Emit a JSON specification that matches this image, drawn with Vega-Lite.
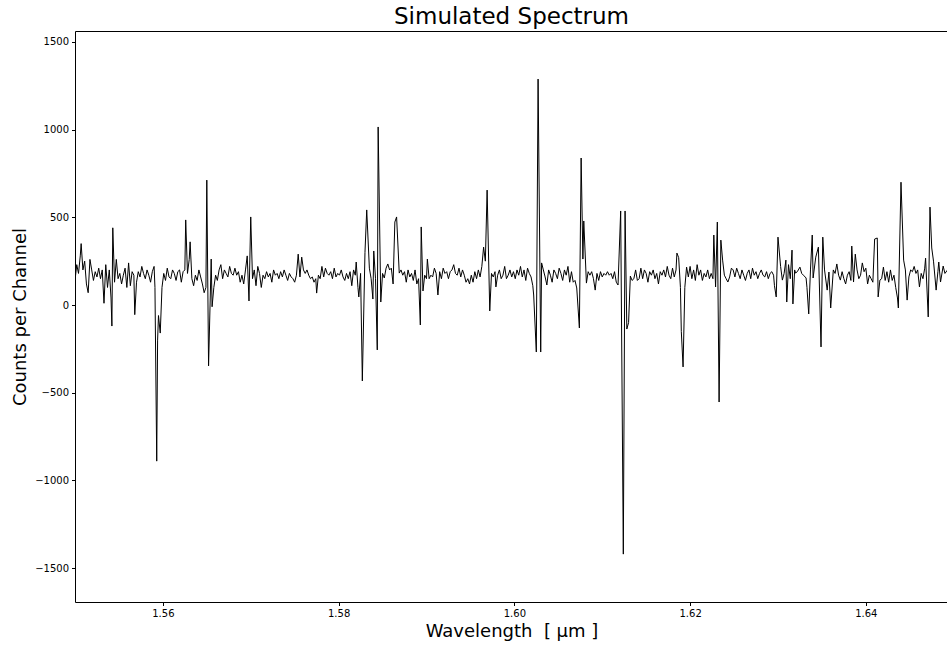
{
"$schema": "https://vega.github.io/schema/vega-lite/v6.json",
"autosize": {"type": "none"},
"padding": {"left": 75, "top": 31, "right": 0, "bottom": 47},
"width": 873,
"height": 571,
"background": "white",
"config": {
  "font": "DejaVu Sans",
  "view": {"stroke": "black", "strokeWidth": 1},
  "axis": {"domain": false, "grid": false, "tickColor": "black", "tickSize": 3.5, "labelFont": "DejaVu Sans", "labelFontSize": 10, "labelColor": "black", "titleFont": "DejaVu Sans", "titleFontWeight": "normal", "titleFontSize": 18, "titleColor": "black", "labelPadding": 3}
},
"title": {"text": "Simulated Spectrum", "font": "DejaVu Sans", "fontSize": 23, "fontWeight": "normal", "color": "black", "anchor": "middle", "offset": 2},
"data": {"values": [
{"w":1.5500,"c":140},{"w":1.5502,"c":230},{"w":1.5504,"c":180},{"w":1.5506,"c":280},{"w":1.5507,"c":350},{"w":1.5509,"c":200},{"w":1.5511,"c":250},{"w":1.5513,"c":120},{"w":1.5515,"c":70},{"w":1.5517,"c":260},{"w":1.5519,"c":200},{"w":1.5521,"c":140},{"w":1.5523,"c":190},{"w":1.5525,"c":160},{"w":1.5527,"c":210},{"w":1.5529,"c":150},{"w":1.5531,"c":200},{"w":1.5533,"c":10},{"w":1.5535,"c":230},{"w":1.5537,"c":100},{"w":1.5539,"c":200},{"w":1.5541,"c":40},{"w":1.5542,"c":-120},{"w":1.5543,"c":440},{"w":1.5545,"c":130},{"w":1.5547,"c":260},{"w":1.5549,"c":150},{"w":1.5551,"c":180},{"w":1.5553,"c":120},{"w":1.5555,"c":170},{"w":1.5557,"c":210},{"w":1.5559,"c":100},{"w":1.5561,"c":240},{"w":1.5563,"c":110},{"w":1.5565,"c":190},{"w":1.5567,"c":170},{"w":1.5568,"c":-55},{"w":1.5570,"c":130},{"w":1.5572,"c":190},{"w":1.5574,"c":160},{"w":1.5576,"c":220},{"w":1.5578,"c":180},{"w":1.5580,"c":150},{"w":1.5582,"c":200},{"w":1.5584,"c":170},{"w":1.5586,"c":130},{"w":1.5588,"c":190},{"w":1.5590,"c":220},{"w":1.5591,"c":100},{"w":1.5593,"c":-890},{"w":1.5594,"c":-200},{"w":1.5595,"c":-60},{"w":1.5597,"c":-160},{"w":1.5599,"c":100},{"w":1.5601,"c":180},{"w":1.5603,"c":140},{"w":1.5605,"c":210},{"w":1.5607,"c":160},{"w":1.5609,"c":150},{"w":1.5611,"c":200},{"w":1.5613,"c":180},{"w":1.5615,"c":140},{"w":1.5617,"c":190},{"w":1.5619,"c":200},{"w":1.5621,"c":130},{"w":1.5623,"c":190},{"w":1.5625,"c":200},{"w":1.5626,"c":485},{"w":1.5628,"c":180},{"w":1.5630,"c":260},{"w":1.5631,"c":360},{"w":1.5633,"c":150},{"w":1.5635,"c":110},{"w":1.5637,"c":170},{"w":1.5639,"c":140},{"w":1.5641,"c":200},{"w":1.5643,"c":160},{"w":1.5645,"c":120},{"w":1.5647,"c":70},{"w":1.5649,"c":100},{"w":1.5650,"c":712},{"w":1.5652,"c":-347},{"w":1.5655,"c":262},{"w":1.5656,"c":-10},{"w":1.5658,"c":100},{"w":1.5660,"c":170},{"w":1.5662,"c":140},{"w":1.5664,"c":200},{"w":1.5666,"c":230},{"w":1.5668,"c":150},{"w":1.5670,"c":200},{"w":1.5672,"c":180},{"w":1.5674,"c":160},{"w":1.5676,"c":220},{"w":1.5678,"c":180},{"w":1.5680,"c":170},{"w":1.5682,"c":210},{"w":1.5684,"c":170},{"w":1.5686,"c":190},{"w":1.5688,"c":130},{"w":1.5690,"c":170},{"w":1.5692,"c":120},{"w":1.5694,"c":200},{"w":1.5696,"c":280},{"w":1.5698,"c":23},{"w":1.5700,"c":502},{"w":1.5702,"c":150},{"w":1.5704,"c":200},{"w":1.5706,"c":110},{"w":1.5708,"c":220},{"w":1.5710,"c":180},{"w":1.5712,"c":100},{"w":1.5714,"c":170},{"w":1.5716,"c":150},{"w":1.5718,"c":190},{"w":1.5720,"c":160},{"w":1.5722,"c":180},{"w":1.5724,"c":130},{"w":1.5726,"c":200},{"w":1.5728,"c":170},{"w":1.5730,"c":180},{"w":1.5732,"c":150},{"w":1.5734,"c":190},{"w":1.5736,"c":160},{"w":1.5738,"c":200},{"w":1.5740,"c":170},{"w":1.5742,"c":140},{"w":1.5744,"c":180},{"w":1.5746,"c":160},{"w":1.5748,"c":150},{"w":1.5750,"c":130},{"w":1.5752,"c":170},{"w":1.5754,"c":290},{"w":1.5756,"c":160},{"w":1.5758,"c":273},{"w":1.5760,"c":200},{"w":1.5762,"c":180},{"w":1.5764,"c":200},{"w":1.5766,"c":170},{"w":1.5768,"c":150},{"w":1.5770,"c":160},{"w":1.5772,"c":130},{"w":1.5774,"c":150},{"w":1.5775,"c":68},{"w":1.5777,"c":170},{"w":1.5779,"c":150},{"w":1.5781,"c":220},{"w":1.5783,"c":160},{"w":1.5785,"c":210},{"w":1.5787,"c":180},{"w":1.5789,"c":170},{"w":1.5791,"c":190},{"w":1.5793,"c":150},{"w":1.5795,"c":210},{"w":1.5797,"c":160},{"w":1.5799,"c":180},{"w":1.5801,"c":170},{"w":1.5803,"c":200},{"w":1.5805,"c":160},{"w":1.5807,"c":140},{"w":1.5809,"c":180},{"w":1.5811,"c":150},{"w":1.5813,"c":190},{"w":1.5815,"c":110},{"w":1.5817,"c":200},{"w":1.5819,"c":170},{"w":1.5820,"c":245},{"w":1.5822,"c":100},{"w":1.5823,"c":46},{"w":1.5825,"c":180},{"w":1.5827,"c":-433},{"w":1.5830,"c":300},{"w":1.5832,"c":542},{"w":1.5835,"c":210},{"w":1.5837,"c":150},{"w":1.5839,"c":34},{"w":1.5840,"c":308},{"w":1.5842,"c":150},{"w":1.5844,"c":-256},{"w":1.5845,"c":1015},{"w":1.5848,"c":17},{"w":1.5850,"c":180},{"w":1.5852,"c":154},{"w":1.5854,"c":210},{"w":1.5856,"c":234},{"w":1.5858,"c":200},{"w":1.5860,"c":210},{"w":1.5862,"c":120},{"w":1.5864,"c":473},{"w":1.5866,"c":502},{"w":1.5869,"c":182},{"w":1.5871,"c":200},{"w":1.5873,"c":170},{"w":1.5875,"c":190},{"w":1.5877,"c":130},{"w":1.5879,"c":200},{"w":1.5881,"c":160},{"w":1.5883,"c":180},{"w":1.5885,"c":140},{"w":1.5887,"c":200},{"w":1.5889,"c":120},{"w":1.5891,"c":150},{"w":1.5893,"c":-114},{"w":1.5894,"c":445},{"w":1.5896,"c":80},{"w":1.5898,"c":170},{"w":1.5900,"c":150},{"w":1.5901,"c":262},{"w":1.5903,"c":150},{"w":1.5905,"c":170},{"w":1.5907,"c":160},{"w":1.5909,"c":210},{"w":1.5911,"c":180},{"w":1.5913,"c":57},{"w":1.5915,"c":190},{"w":1.5917,"c":150},{"w":1.5919,"c":210},{"w":1.5921,"c":180},{"w":1.5923,"c":190},{"w":1.5925,"c":150},{"w":1.5927,"c":190},{"w":1.5929,"c":200},{"w":1.5931,"c":230},{"w":1.5933,"c":180},{"w":1.5935,"c":170},{"w":1.5937,"c":210},{"w":1.5939,"c":160},{"w":1.5941,"c":200},{"w":1.5943,"c":170},{"w":1.5945,"c":130},{"w":1.5947,"c":150},{"w":1.5949,"c":120},{"w":1.5951,"c":170},{"w":1.5953,"c":130},{"w":1.5955,"c":190},{"w":1.5957,"c":150},{"w":1.5959,"c":200},{"w":1.5961,"c":160},{"w":1.5963,"c":220},{"w":1.5965,"c":330},{"w":1.5967,"c":250},{"w":1.5969,"c":655},{"w":1.5972,"c":-34},{"w":1.5974,"c":180},{"w":1.5976,"c":160},{"w":1.5978,"c":190},{"w":1.5979,"c":103},{"w":1.5981,"c":170},{"w":1.5983,"c":200},{"w":1.5985,"c":150},{"w":1.5987,"c":170},{"w":1.5989,"c":220},{"w":1.5991,"c":150},{"w":1.5993,"c":170},{"w":1.5995,"c":200},{"w":1.5997,"c":160},{"w":1.5999,"c":190},{"w":1.6001,"c":150},{"w":1.6003,"c":200},{"w":1.6005,"c":170},{"w":1.6007,"c":220},{"w":1.6009,"c":160},{"w":1.6011,"c":200},{"w":1.6013,"c":140},{"w":1.6015,"c":210},{"w":1.6017,"c":180},{"w":1.6019,"c":160},{"w":1.6021,"c":110},{"w":1.6022,"c":57},{"w":1.6025,"c":-268},{"w":1.6027,"c":1288},{"w":1.6030,"c":-268},{"w":1.6031,"c":240},{"w":1.6033,"c":200},{"w":1.6035,"c":160},{"w":1.6037,"c":114},{"w":1.6039,"c":200},{"w":1.6041,"c":170},{"w":1.6043,"c":130},{"w":1.6045,"c":200},{"w":1.6047,"c":180},{"w":1.6049,"c":150},{"w":1.6051,"c":210},{"w":1.6053,"c":180},{"w":1.6055,"c":140},{"w":1.6057,"c":200},{"w":1.6059,"c":170},{"w":1.6061,"c":220},{"w":1.6063,"c":130},{"w":1.6065,"c":190},{"w":1.6067,"c":130},{"w":1.6069,"c":140},{"w":1.6071,"c":97},{"w":1.6074,"c":-131},{"w":1.6076,"c":838},{"w":1.6078,"c":262},{"w":1.6079,"c":479},{"w":1.6082,"c":125},{"w":1.6084,"c":190},{"w":1.6086,"c":170},{"w":1.6088,"c":190},{"w":1.6090,"c":150},{"w":1.6092,"c":85},{"w":1.6094,"c":180},{"w":1.6096,"c":140},{"w":1.6098,"c":190},{"w":1.6100,"c":160},{"w":1.6102,"c":180},{"w":1.6104,"c":170},{"w":1.6106,"c":190},{"w":1.6108,"c":170},{"w":1.6110,"c":180},{"w":1.6112,"c":150},{"w":1.6114,"c":190},{"w":1.6116,"c":130},{"w":1.6118,"c":114},{"w":1.6121,"c":536},{"w":1.6124,"c":-1420},{"w":1.6126,"c":536},{"w":1.6128,"c":-137},{"w":1.6130,"c":-100},{"w":1.6132,"c":165},{"w":1.6134,"c":140},{"w":1.6136,"c":150},{"w":1.6138,"c":200},{"w":1.6140,"c":140},{"w":1.6142,"c":150},{"w":1.6144,"c":210},{"w":1.6146,"c":150},{"w":1.6148,"c":200},{"w":1.6150,"c":180},{"w":1.6152,"c":130},{"w":1.6154,"c":190},{"w":1.6156,"c":170},{"w":1.6158,"c":200},{"w":1.6160,"c":150},{"w":1.6162,"c":180},{"w":1.6164,"c":120},{"w":1.6166,"c":190},{"w":1.6168,"c":170},{"w":1.6170,"c":200},{"w":1.6172,"c":160},{"w":1.6174,"c":220},{"w":1.6176,"c":170},{"w":1.6178,"c":150},{"w":1.6180,"c":210},{"w":1.6182,"c":160},{"w":1.6184,"c":200},{"w":1.6185,"c":296},{"w":1.6187,"c":270},{"w":1.6189,"c":100},{"w":1.6190,"c":-150},{"w":1.6192,"c":-353},{"w":1.6194,"c":100},{"w":1.6196,"c":216},{"w":1.6198,"c":160},{"w":1.6200,"c":220},{"w":1.6202,"c":150},{"w":1.6204,"c":200},{"w":1.6206,"c":140},{"w":1.6208,"c":230},{"w":1.6210,"c":170},{"w":1.6212,"c":200},{"w":1.6214,"c":140},{"w":1.6216,"c":180},{"w":1.6218,"c":160},{"w":1.6220,"c":200},{"w":1.6222,"c":150},{"w":1.6224,"c":180},{"w":1.6226,"c":150},{"w":1.6227,"c":399},{"w":1.6229,"c":103},{"w":1.6231,"c":473},{"w":1.6233,"c":-553},{"w":1.6235,"c":370},{"w":1.6237,"c":256},{"w":1.6239,"c":170},{"w":1.6241,"c":150},{"w":1.6243,"c":131},{"w":1.6245,"c":160},{"w":1.6247,"c":210},{"w":1.6249,"c":200},{"w":1.6251,"c":160},{"w":1.6253,"c":210},{"w":1.6255,"c":180},{"w":1.6257,"c":150},{"w":1.6259,"c":200},{"w":1.6261,"c":170},{"w":1.6263,"c":140},{"w":1.6265,"c":180},{"w":1.6267,"c":200},{"w":1.6269,"c":150},{"w":1.6271,"c":210},{"w":1.6273,"c":170},{"w":1.6275,"c":190},{"w":1.6277,"c":150},{"w":1.6279,"c":180},{"w":1.6281,"c":200},{"w":1.6283,"c":170},{"w":1.6285,"c":160},{"w":1.6287,"c":190},{"w":1.6289,"c":150},{"w":1.6291,"c":180},{"w":1.6293,"c":190},{"w":1.6295,"c":170},{"w":1.6296,"c":110},{"w":1.6298,"c":46},{"w":1.6300,"c":387},{"w":1.6303,"c":220},{"w":1.6305,"c":142},{"w":1.6307,"c":180},{"w":1.6309,"c":256},{"w":1.6310,"c":17},{"w":1.6312,"c":230},{"w":1.6314,"c":150},{"w":1.6316,"c":313},{"w":1.6317,"c":6},{"w":1.6319,"c":200},{"w":1.6320,"c":182},{"w":1.6322,"c":190},{"w":1.6325,"c":216},{"w":1.6327,"c":180},{"w":1.6329,"c":170},{"w":1.6332,"c":154},{"w":1.6333,"c":100},{"w":1.6335,"c":-51},{"w":1.6337,"c":200},{"w":1.6339,"c":399},{"w":1.6340,"c":154},{"w":1.6343,"c":273},{"w":1.6346,"c":330},{"w":1.6349,"c":-239},{"w":1.6351,"c":387},{"w":1.6353,"c":200},{"w":1.6356,"c":85},{"w":1.6358,"c":188},{"w":1.6360,"c":-17},{"w":1.6363,"c":200},{"w":1.6365,"c":180},{"w":1.6367,"c":234},{"w":1.6369,"c":170},{"w":1.6371,"c":142},{"w":1.6373,"c":190},{"w":1.6375,"c":150},{"w":1.6377,"c":120},{"w":1.6379,"c":170},{"w":1.6381,"c":190},{"w":1.6383,"c":140},{"w":1.6384,"c":336},{"w":1.6386,"c":131},{"w":1.6388,"c":290},{"w":1.6390,"c":200},{"w":1.6392,"c":150},{"w":1.6394,"c":170},{"w":1.6396,"c":240},{"w":1.6398,"c":190},{"w":1.6400,"c":210},{"w":1.6402,"c":120},{"w":1.6404,"c":170},{"w":1.6406,"c":150},{"w":1.6408,"c":130},{"w":1.6410,"c":376},{"w":1.6413,"c":382},{"w":1.6414,"c":46},{"w":1.6416,"c":142},{"w":1.6418,"c":150},{"w":1.6420,"c":216},{"w":1.6422,"c":140},{"w":1.6424,"c":190},{"w":1.6426,"c":130},{"w":1.6428,"c":200},{"w":1.6430,"c":140},{"w":1.6432,"c":170},{"w":1.6434,"c":100},{"w":1.6436,"c":40},{"w":1.6437,"c":-17},{"w":1.6440,"c":700},{"w":1.6443,"c":256},{"w":1.6445,"c":200},{"w":1.6447,"c":28},{"w":1.6449,"c":160},{"w":1.6451,"c":200},{"w":1.6453,"c":190},{"w":1.6455,"c":220},{"w":1.6457,"c":180},{"w":1.6459,"c":200},{"w":1.6461,"c":103},{"w":1.6463,"c":180},{"w":1.6465,"c":150},{"w":1.6467,"c":210},{"w":1.6468,"c":267},{"w":1.6471,"c":-68},{"w":1.6473,"c":558},{"w":1.6475,"c":325},{"w":1.6477,"c":250},{"w":1.6480,"c":85},{"w":1.6482,"c":190},{"w":1.6483,"c":245},{"w":1.6485,"c":131},{"w":1.6488,"c":222},{"w":1.6490,"c":180},{"w":1.6493,"c":200},{"w":1.6496,"c":160}
]},
"mark": {"type": "line", "color": "black", "strokeWidth": 1, "clip": true},
"encoding": {
  "x": {"field": "w", "type": "quantitative", "scale": {"domain": [1.55, 1.64935], "nice": false, "zero": false},
        "axis": {"values": [1.56, 1.58, 1.60, 1.62, 1.64], "format": ".2f", "title": "Wavelength\u00a0\u00a0[\u00a0μm\u00a0]", "titlePadding": 4}},
  "y": {"field": "c", "type": "quantitative", "scale": {"domain": [-1693, 1562], "nice": false, "zero": false},
        "axis": {"values": [-1500, -1000, -500, 0, 500, 1000, 1500], "format": "d", "labelExpr": "replace(datum.label, '-', '−')", "title": "Counts per Channel", "titlePadding": 5}}
}
}
